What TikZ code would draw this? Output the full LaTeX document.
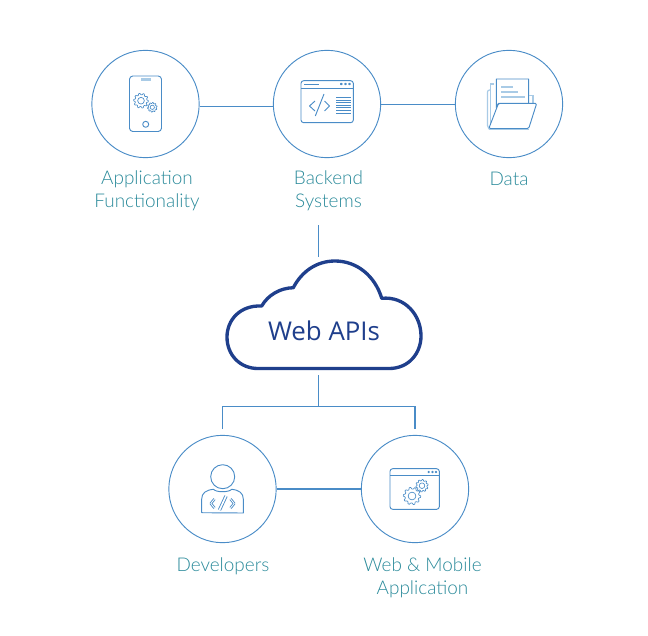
\documentclass[tikz,border=0pt]{standalone}
\usepackage{fontspec}
\setmainfont{Lato Light}
\newfontfamily\apifont{Open Sans}
\usetikzlibrary{positioning}
\definecolor{ringblue}{HTML}{4A8CC7}
\definecolor{paleblue}{HTML}{A9CBE6}
\definecolor{labelteal}{HTML}{2A8A9A}
\definecolor{cloudblue}{HTML}{1F3F8C}
\tikzset{
  ring/.style={circle,draw=ringblue,line width=0.7pt,minimum size=80.5pt,inner sep=0pt},
  link/.style={draw=ringblue,line width=0.8pt},
  icon/.style={draw=ringblue,line width=0.7pt,line join=round},
  iconpale/.style={draw=paleblue,line width=0.9pt},
  caption/.style={text=labelteal,font=\fontsize{14.2pt}{17.2pt}\selectfont,align=center},
}
% cog: centre, outer radius, start angle
\newcommand{\cog}[3]{%
  \draw[icon,line width=0.5pt] (#1) circle ({0.45*#2});
  \draw[icon,line width=0.5pt] plot[smooth cycle,tension=0.3,samples at={0,...,39}]
    ([shift={(#1)}]{\x*9+#3}:{#2*(mod(\x,4)<2 ? 1 : 0.8)});
}
\begin{document}
\begin{tikzpicture}[x=0.75pt,y=-0.75pt]
    \useasboundingbox (0,0) rectangle (648,635);

    \node[ring] (phone) at (145.5,104) {};
    \node[ring] (backend) at (327,104) {};
    \node[ring] (data) at (509,104) {};
    \node[ring] (dev) at (222.5,489) {};
    \node[ring] (app) at (415,489) {};

    \node[caption] (phonetext) at (147,191) {Application\\Functionality};
    \node[caption] (backendtext) at (328.5,191) {Backend\\Systems};
    \node[caption] (datatext) at (509,179) {Data};
    \node[caption] (devtext) at (223,566) {Developers};
    \node[caption] (apptext) at (422.5,577.5) {Web \& Mobile\\Application};

    % cloud
    \node[text=cloudblue,font=\apifont\fontsize{19.4pt}{24pt}\selectfont] (api) at (324,331) {Web APIs};
    \draw[draw=cloudblue,line width=2.5pt,line join=round]
      (258,368.5) -- (389,368.5)
      .. controls (409,368.5) and (421,353) .. (421,336)
      .. controls (421,315) and (405,296) .. (381.7,298.3)
      .. controls (375,276) and (357,261) .. (335,261)
      .. controls (317,261) and (302,271) .. (293.3,287.7)
      .. controls (280,288) and (268,295) .. (261.7,306)
      .. controls (240,305) and (227,320) .. (227,337)
      .. controls (227,355) and (240,368.5) .. (258,368.5) -- cycle;

    \coordinate (upper) at (318.5,225);
    \coordinate (uppercloud) at (318.5,257);
    \coordinate (lowercloud) at (318.5,375);
    \coordinate (fork) at (318.5,406.5);
    \coordinate (forkleft) at (222.5,429);
    \coordinate (forkright) at (415,429);

    \draw[link] (phone.-3)--(backend.183);
    \draw[link] (backend.-1)--(data.181);
    \draw[link] (dev.0)--(app.180);
    \draw[link] (upper)--(uppercloud);
    \draw[link] (lowercloud)--(fork);
    \draw[link] (forkleft) |- (fork) -| (forkright);

    % phone icon
    \draw[icon,rounded corners=2.5pt] (129.5,76) rectangle (161.5,131.5);
    \draw[iconpale,fill=paleblue] (141.5,78.2) rectangle (150,80.2);
    \draw[icon] (145.7,124.3) circle (3);
    \cog{141,100.7}{7.4}{0}
    \cog{152.3,107.3}{4.8}{20}

    % backend icon
    \draw[icon,rounded corners=2pt] (301,80.7) rectangle (353.3,122.7);
    \draw[icon] (301,88.7)--(353.3,88.7);
    \draw[icon] (304,84)--(318.7,84);
    \foreach \dotx in {341.3,345.5,349.5} \draw[icon] (\dotx,84) circle (0.9);
    \draw[icon] (315,101)--(309.5,106)--(315,111);
    \draw[icon] (324.5,101)--(329.5,106)--(324.5,111);
    \draw[icon] (324,94)--(315.3,116);
    \foreach \liney in {97.3,99.9,...,113} \draw[icon,line width=0.5pt] (336,\liney)--(351,\liney);

    % folder icon
    \draw[iconpale] (494,84)--(490.5,84)--(490.5,129);
    \draw[iconpale,rounded corners=1.5pt] (490.5,90)--(487.5,90)--(487.5,127.5)--(489,129);
    \draw[icon,fill=white] (498.5,103)--(496.3,108)--(496.3,79)--(528.7,79)--(528.7,103.3);
    \draw[iconpale] (528.7,95.7)--(533,95.7)--(533,103.3);
    \draw[iconpale,fill=paleblue] (502,86.2) rectangle (512,87.2);
    \draw[iconpale,fill=paleblue] (502,91.5) rectangle (517.3,92.5);
    \draw[iconpale,fill=paleblue] (502,96.8) rectangle (524.7,97.8);
    \draw[icon,fill=white,rounded corners=1pt] (498.5,103.3)--(536.7,103.3)--(528.7,128.5)--(488.8,128.5)--cycle;
    \draw[iconpale] (488.8,129.5)--(528.7,129.5);

    % developer icon
    \draw[icon] (222.7,476.7) circle (12);
    \draw[icon] (213.5,489.3) .. controls (216,492.5) and (229,492.5) .. (231.7,489.3)
      .. controls (239,490) and (243.3,493) .. (243.3,499) -- (243.3,513) -- (201.7,512.7)
      -- (201.7,499) .. controls (201.7,493) and (206,490) .. (213.5,489.3) -- cycle;
    \draw[icon,line width=1.9pt] (214.5,499)--(210.8,503.5)--(214.5,508);
    \draw[draw=white,line width=0.6pt] (214.5,499)--(210.8,503.5)--(214.5,508);
    \draw[icon,line width=1.9pt] (230.5,499)--(234.2,503.5)--(230.5,508);
    \draw[draw=white,line width=0.6pt] (230.5,499)--(234.2,503.5)--(230.5,508);
    \draw[icon,line width=2.5pt] (226,496)--(219.5,510);
    \draw[draw=white,line width=1.2pt] (226,496)--(219.5,510);

    % web and mobile icon
    \draw[icon,rounded corners=2pt] (390,468.7) rectangle (439.3,509.3);
    \draw[icon] (390,475.3)--(439.3,475.3);
    \foreach \dotx in {428.7,432.5,436} \draw[icon] (\dotx,472) circle (0.7);
    \cog{412,496}{8.7}{0}
    \cog{422,485.7}{6.2}{20}
\end{tikzpicture}
\end{document}
